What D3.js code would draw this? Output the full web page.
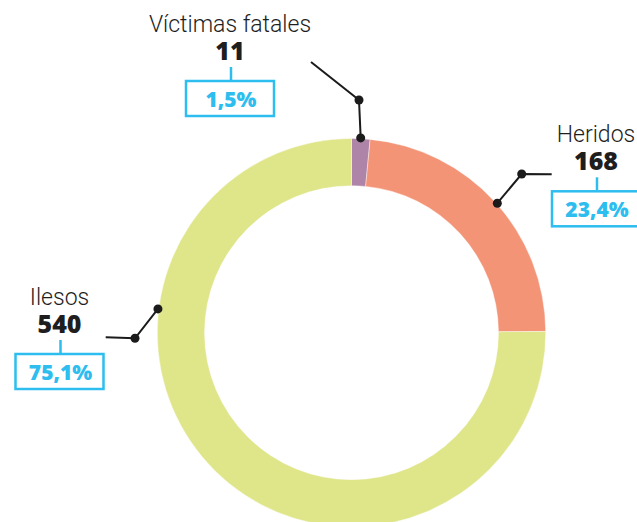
<!DOCTYPE html>
<html>
<head>
<meta charset="utf-8">
<script src="https://cdn.jsdelivr.net/npm/d3@7"></script>
<style>
  html, body { margin: 0; padding: 0; background: #fff; }
  svg { display: block; }
</style>
</head>
<body>
<div id="chart"></div>
<script>
// data
const categories = ["Víctimas fatales", "Heridos", "Ilesos"];
const values = [11, 168, 540];
const colors = ["#ae84a8", "#f39477", "#dfe589"];

// annotation layout (label centre, first baseline, leader points)
const labelX = [230, 596, 59.5];
const labelY = [32, 142.3, 305];
const leaderAngle = [2.7, 48.4, 277];       // degrees, clockwise from top
const leaderElbow = [[359, 100], [521.7, 174], [135, 338.3]];
const leaderEnd = [[311, 62], [551.7, 174.3], [105.7, 337.3]];

const width = 637, height = 522;
const cx = 351.5, cy = 332.7;
const outerR = 194.2, innerR = 147;

const svg = d3.select("#chart").append("svg")
  .attr("width", width)
  .attr("height", height);

const pie = d3.pie().sort(null).value(d => d);
const arc = d3.arc().innerRadius(innerR).outerRadius(outerR);

const g = svg.append("g").attr("transform", `translate(${cx},${cy})`);

g.selectAll("path")
  .data(pie(values))
  .enter()
  .append("path")
  .attr("d", arc)
  .attr("fill", (d, i) => colors[i])
  .attr("stroke", "#fff")
  .attr("stroke-width", 0.4);

const total = d3.sum(values);
const pct = v => d3.format(".1f")(v / total * 100).replace(".", ",") + "%";

// leader lines
const ink = "#1b1b1b";
categories.forEach((c, i) => {
  const a = leaderAngle[i] * Math.PI / 180;
  const p0 = [cx + 195 * Math.sin(a), cy - 195 * Math.cos(a)];
  const pts = [p0, leaderElbow[i], leaderEnd[i]];
  svg.append("path")
    .attr("d", d3.line()(pts))
    .attr("fill", "none")
    .attr("stroke", ink)
    .attr("stroke-width", 2);
  [p0, leaderElbow[i]].forEach(p => {
    svg.append("circle")
      .attr("cx", p[0]).attr("cy", p[1])
      .attr("r", 4.5)
      .attr("fill", ink);
  });
});

// labels
const blue = "#2dbdee";
categories.forEach((c, i) => {
  const x = labelX[i], y = labelY[i];
  const lab = svg.append("g");
  lab.append("text")
    .attr("x", x).attr("y", y)
    .attr("text-anchor", "middle")
    .attr("font-family", "Roboto, sans-serif")
    .attr("font-weight", 300)
    .attr("font-size", "23px")
    .attr("fill", "#1e1e1e")
    .text(c);
  lab.append("text")
    .attr("x", x).attr("y", y + 28)
    .attr("text-anchor", "middle")
    .attr("font-family", "'Open Sans', sans-serif")
    .attr("font-weight", 800)
    .attr("font-size", "25px")
    .attr("fill", "#1e1e1e")
    .text(values[i]);
  lab.append("line")
    .attr("x1", x + 1).attr("x2", x + 1)
    .attr("y1", y + 35).attr("y2", y + 48)
    .attr("stroke", blue)
    .attr("stroke-width", 2.5);
  lab.append("rect")
    .attr("x", x - 44).attr("y", y + 49)
    .attr("width", 88).attr("height", 35)
    .attr("fill", "#fff")
    .attr("stroke", blue)
    .attr("stroke-width", 2.5);
  lab.append("text")
    .attr("x", x + 1).attr("y", y + 74.5)
    .attr("text-anchor", "middle")
    .attr("font-family", "'Open Sans', sans-serif")
    .attr("font-weight", 800)
    .attr("font-size", "21px")
    .attr("fill", blue)
    .text(pct(values[i]));
});
</script>
</body>
</html>
